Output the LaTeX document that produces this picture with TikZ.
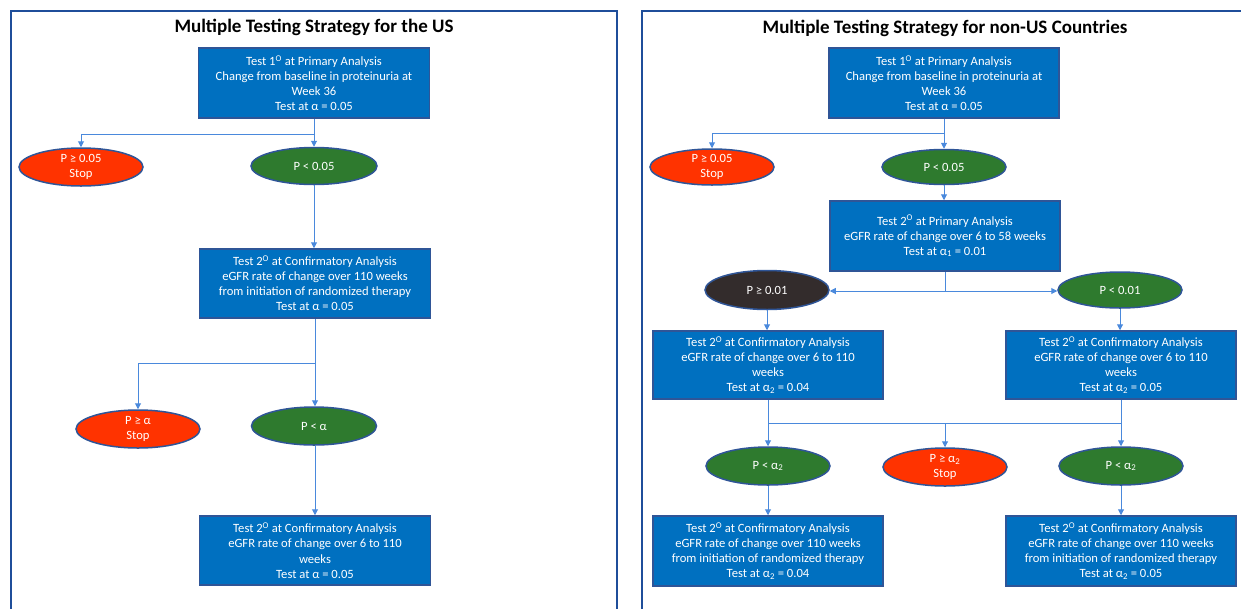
\documentclass[tikz,border=0pt]{standalone}
\usepackage{fontspec}
\setmainfont{Carlito}
\usetikzlibrary{shapes.geometric,arrows.meta}
\definecolor{framecol}{HTML}{1F4E9A}
\definecolor{boxfill}{HTML}{0070C0}
\definecolor{boxline}{HTML}{2F5597}
\definecolor{okgreen}{HTML}{2E7A2E}
\definecolor{stopred}{HTML}{FF3300}
\definecolor{darkell}{HTML}{332C2C}
\definecolor{linkcol}{HTML}{4A89DC}
\tikzset{
  frameline/.style={draw=framecol,line width=2pt},
  titletext/.style={font=\fontsize{19}{22}\selectfont\bfseries,text=black},
  testbox/.style={rectangle,draw=boxline,line width=1.5pt,fill=boxfill,text=white,
    minimum width=230pt,minimum height=69pt,inner sep=0pt,align=center,
    font=\fontsize{12.6}{15}\selectfont},
  result/.style={ellipse,draw=boxline,line width=1.5pt,text=white,
    minimum width=124pt,minimum height=38pt,inner sep=0pt,align=center,
    font=\fontsize{12.6}{15}\selectfont},
  passell/.style={result,fill=okgreen},
  stopell/.style={result,fill=stopred},
  darkell/.style={result,fill=darkell},
  link/.style={draw=linkcol,line width=1pt},
  arrowlink/.style={link,-{Triangle[width=6pt,length=6pt]}}
}
\newcommand{\dg}{\textsuperscript{O}}
\begin{document}
\begin{tikzpicture}[x=1pt,y=-1pt]
\useasboundingbox (0,0) rectangle (1241,608);
% frames
\draw[frameline] (11,615) -- (11,11) -- (617,11) -- (617,615);
\draw[frameline] (642,615) -- (642,11) -- (1250,11);
% ---------- left panel ----------
\node[titletext] (tl) at (314,27) {Multiple Testing Strategy for the US};
\node[testbox,minimum width=231pt,minimum height=70pt] (b1) at (314,83)
  {Test 1\dg{} at Primary Analysis\\Change from baseline in proteinuria at\\Week 36\\Test at α = 0.05};
\node[stopell] (e1r) at (81,167) {P ≥ 0.05\\Stop};
\node[passell,minimum width=126pt,minimum height=37pt] (e1g) at (314,166) {P < 0.05};
\node[testbox,minimum width=231pt] (b2) at (315,283.5)
  {Test 2\dg{} at Confirmatory Analysis\\eGFR rate of change over 110 weeks\\from initiation of randomized therapy\\Test at α = 0.05};
\node[stopell] (e2r) at (138,429) {P ≥ α\\Stop};
\node[passell,minimum width=125pt] (e2g) at (314,426) {P < α};
\node[testbox,minimum width=231pt] (b3) at (315,550.5)
  {Test 2\dg{} at Confirmatory Analysis\\eGFR rate of change over 6 to 110\\weeks\\Test at α = 0.05};
\coordinate (j1) at (314,134);
\coordinate (j2) at (315,363);
\draw[link] (b1.south) -- (j1);
\draw[arrowlink] (j1) -| (e1r.north);
\draw[arrowlink] (j1) -- (e1g.north);
\draw[arrowlink] (e1g.south) -- (b2.north -| e1g.south);
\draw[link] (b2.south) -- (j2);
\draw[arrowlink] (j2) -| (e2r.north);
\draw[arrowlink] (j2) -- (e2g.north -| j2);
\draw[arrowlink] (e2g.south -| j2) -- (b3.north);
% ---------- right panel ----------
\node[titletext] (tr) at (945,28) {Multiple Testing Strategy for non-US Countries};
\node[testbox,minimum height=70pt] (rb1) at (944,83)
  {Test 1\dg{} at Primary Analysis\\Change from baseline in proteinuria at\\Week 36\\Test at α = 0.05};
\node[stopell,minimum height=36pt] (re1r) at (712,167) {P ≥ 0.05\\Stop};
\node[passell,minimum height=35pt] (re1g) at (944,167) {P < 0.05};
\node[testbox,minimum height=70pt] (rb2) at (945,236)
  {Test 2\dg{} at Primary Analysis\\eGFR rate of change over 6 to 58 weeks\\Test at α\textsubscript{1} = 0.01};
\node[darkell,minimum height=39pt] (rek) at (767,290) {P ≥ 0.01};
\node[passell,minimum height=36pt] (rgA) at (1120,290) {P < 0.01};
\node[testbox,minimum height=68pt] (rl2) at (768,365)
  {Test 2\dg{} at Confirmatory Analysis\\eGFR rate of change over 6 to 110\\weeks\\Test at α\textsubscript{2} = 0.04};
\node[testbox,minimum height=68pt] (rr2) at (1121,365)
  {Test 2\dg{} at Confirmatory Analysis\\eGFR rate of change over 6 to 110\\weeks\\Test at α\textsubscript{2} = 0.05};
\node[passell] (rgL) at (768,466) {P < α\textsubscript{2}};
\node[stopell] (rsC) at (945,467) {P ≥ α\textsubscript{2}\\Stop};
\node[passell] (rgR) at (1121,466) {P < α\textsubscript{2}};
\node[testbox,minimum height=70pt] (rl3) at (768,551)
  {Test 2\dg{} at Confirmatory Analysis\\eGFR rate of change over 110 weeks\\from initiation of randomized therapy\\Test at α\textsubscript{2} = 0.04};
\node[testbox,minimum height=70pt] (rr3) at (1121,551)
  {Test 2\dg{} at Confirmatory Analysis\\eGFR rate of change over 110 weeks\\from initiation of randomized therapy\\Test at α\textsubscript{2} = 0.05};
\coordinate (rj1) at (944,133);
\coordinate (rj2) at (945,291);
\coordinate (rjL) at (768,423);
\coordinate (rjC) at (945,423);
\coordinate (rjR) at (1121,423);
\draw[link] (rb1.south) -- (rj1);
\draw[arrowlink] (rj1) -| (re1r.north);
\draw[arrowlink] (rj1) -- (re1g.north);
\draw[arrowlink] (re1g.south) -- (rb2.north -| re1g.south);
\draw[link] (rb2.south) -- (rj2);
\draw[arrowlink] (rj2) -- (rek.east |- rj2);
\draw[arrowlink] (rj2) -- (rgA.west |- rj2);
\draw[arrowlink] (rek.south) -- (rl2.north -| rek.south);
\draw[arrowlink] (rgA.south) -- (rr2.north -| rgA.south);
\draw[link] (rl2.south) -- (rjL) -- (rjR) -- (rr2.south);
\draw[arrowlink] (rjL) -- (rgL.north);
\draw[arrowlink] (rjC) -- (rsC.north);
\draw[arrowlink] (rjR) -- (rgR.north);
\draw[arrowlink] (rgL.south) -- (rl3.north);
\draw[arrowlink] (rgR.south) -- (rr3.north);
\end{tikzpicture}
\end{document}
